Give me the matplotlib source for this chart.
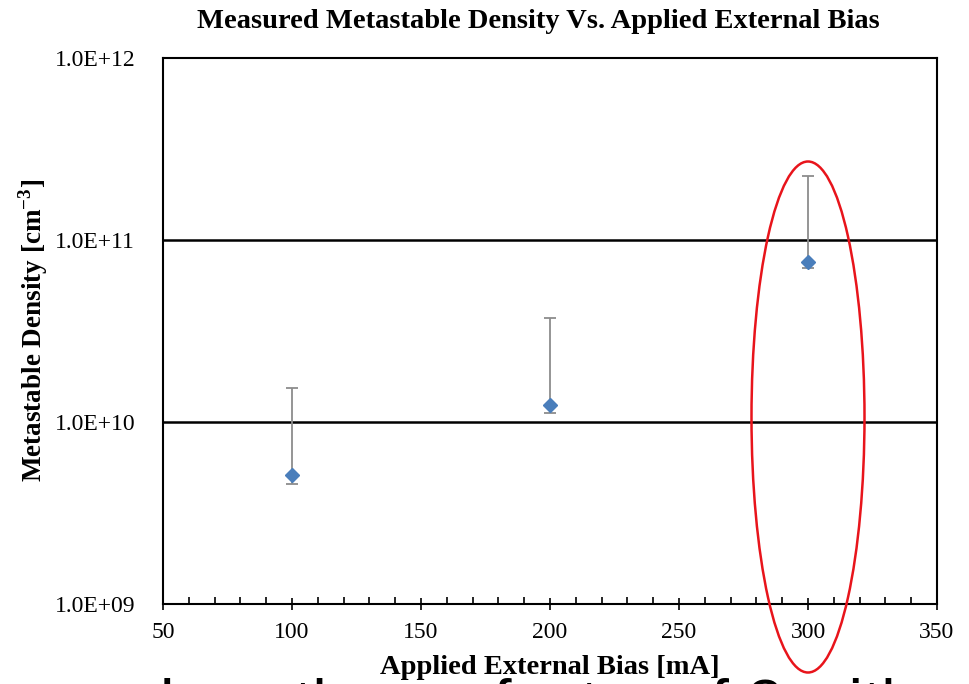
"""Metastable density vs applied external bias, log-scale with error bars."""
import matplotlib
matplotlib.use("Agg")
import matplotlib.pyplot as plt
from matplotlib.patches import Ellipse
from matplotlib.ticker import FixedLocator, MultipleLocator, NullLocator


bias_ma = [100, 200, 300]
density = [5.1e9, 1.24e10, 7.57e10]
err_low = [4.56e9, 1.12e10, 7.0e10]
err_high = [1.54e10, 3.73e10, 2.25e11]

y_ticks = [1e9, 1e10, 1e11, 1e12]
y_tick_labels = ["1.0E+09", "1.0E+10", "1.0E+11", "1.0E+12"]
x_ticks = [50, 100, 150, 200, 250, 300, 350]

SERIF = ["Liberation Serif", "DejaVu Serif"]

plt.rcParams["mathtext.fontset"] = "custom"
plt.rcParams["mathtext.rm"] = "Liberation Serif"
plt.rcParams["mathtext.bf"] = "Liberation Serif:bold"


def main():
    fig = plt.figure(figsize=(9.7, 6.84), dpi=100)
    ax = fig.add_axes([163 / 970, 1 - 604 / 684, 774 / 970, 546 / 684])

    ax.set_yscale("log")
    ax.set_xlim(50, 350)
    ax.set_ylim(1e9, 1e12)

    # horizontal gridlines at the inner decades
    for y in y_ticks[1:-1]:
        ax.axhline(y, color="black", lw=1.8, zorder=1)

    yerr = [[d - lo for d, lo in zip(density, err_low)],
            [hi - d for d, hi in zip(density, err_high)]]
    ax.errorbar(bias_ma, density, yerr=yerr, fmt="none", ecolor="#8c8c8c",
                elinewidth=1.3, capsize=4, capthick=1.3, zorder=2)
    ax.plot(bias_ma, density, ls="none", marker="D", ms=7,
            color="#4a7ebb", zorder=3)

    ax.xaxis.set_major_locator(FixedLocator(x_ticks))
    ax.xaxis.set_minor_locator(MultipleLocator(10))
    ax.yaxis.set_major_locator(FixedLocator(y_ticks))
    ax.yaxis.set_minor_locator(NullLocator())
    ax.set_yticklabels(y_tick_labels)
    ax.set_xticklabels([str(v) for v in x_ticks])

    ax.tick_params(axis="x", which="major", direction="inout", length=8,
                   width=1.2, pad=9)
    ax.tick_params(axis="x", which="minor", direction="in", length=5,
                   width=1.2)
    ax.tick_params(axis="y", which="major", length=0, pad=20)
    for lbl in ax.get_xticklabels() + ax.get_yticklabels():
        lbl.set_family(SERIF)
        lbl.set_fontsize(17)

    for sp in ax.spines.values():
        sp.set_linewidth(1.5)
        sp.set_color("black")

    fig.text(538 / 970, 1 - 21 / 684,
             "Measured Metastable Density Vs. Applied External Bias",
             ha="center", va="center", family=SERIF, fontsize=20.5,
             fontweight="bold")
    fig.text(550 / 970, 1 - 668 / 684, "Applied External Bias [mA]",
             ha="center", va="center", family=SERIF, fontsize=20.5,
             fontweight="bold")
    fig.text(33 / 970, 1 - 330 / 684, r"Metastable Density [cm$^{\mathbf{-3}}$]",
             ha="center", va="center", rotation=90, family=SERIF,
             fontsize=19.5, fontweight="bold")

    # highlight the 300 mA point
    fig.add_artist(Ellipse((808 / 970, 1 - 417 / 684), 113 / 970, 511 / 684,
                           transform=fig.transFigure, fill=False,
                           edgecolor="#e8141b", lw=1.8, zorder=5))

    # slide caption running off the bottom edge
    fig.text(160 / 970, 1 - 724 / 684, "less than a factor of 2 with",
             ha="left", va="baseline", family=["Liberation Sans"],
             fontsize=47, color="black", zorder=6)

    fig.savefig("out.png", dpi=100)
    plt.close(fig)


if __name__ == "__main__":
    main()
